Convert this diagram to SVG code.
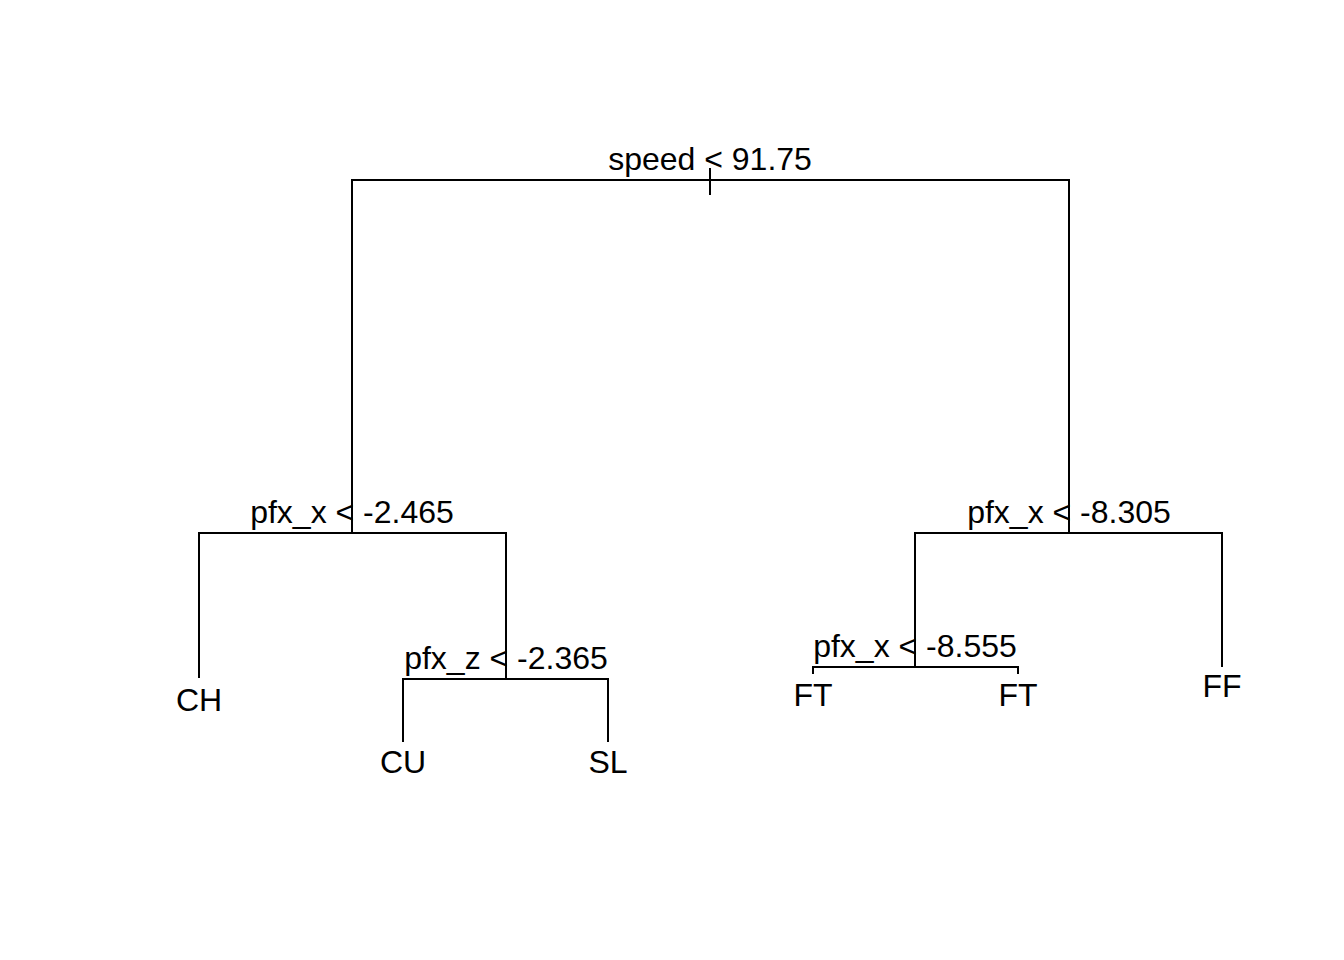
<svg xmlns="http://www.w3.org/2000/svg" width="1344" height="960" viewBox="0 0 1344 960">
<style>
.e{stroke:#000;stroke-width:2;fill:none;stroke-linecap:butt}
text{font-family:"Liberation Sans",Arial,sans-serif;font-size:32px;fill:#000;text-anchor:middle}
</style>
<rect width="1344" height="960" fill="#fff"/>
<g id="connectors">
<path class="e" d="M710,168V195"/>
<path class="e" d="M352,533V180H1069V533"/>
<path class="e" d="M199,678V533H506V679"/>
<path class="e" d="M403,742V679H608V742"/>
<path class="e" d="M915,667V533H1222V667"/>
<path class="e" d="M813,674V667H1018V674"/>
</g>
<g id="n-root"><text x="710" y="170">speed &lt; 91.75</text></g>
<g id="n-left"><text x="352" y="523">pfx_x &lt; -2.465</text></g>
<g id="n-right"><text x="1069" y="523">pfx_x &lt; -8.305</text></g>
<g id="n-leftright"><text x="506" y="669">pfx_z &lt; -2.365</text></g>
<g id="n-rightleft"><text x="915" y="657">pfx_x &lt; -8.555</text></g>
<g id="leaf-CH"><text x="199" y="711">CH</text></g>
<g id="leaf-CU"><text x="403" y="773">CU</text></g>
<g id="leaf-SL"><text x="608" y="773">SL</text></g>
<g id="leaf-FT1"><text x="813" y="706">FT</text></g>
<g id="leaf-FT2"><text x="1018" y="706">FT</text></g>
<g id="leaf-FF"><text x="1222" y="697">FF</text></g>
</svg>
